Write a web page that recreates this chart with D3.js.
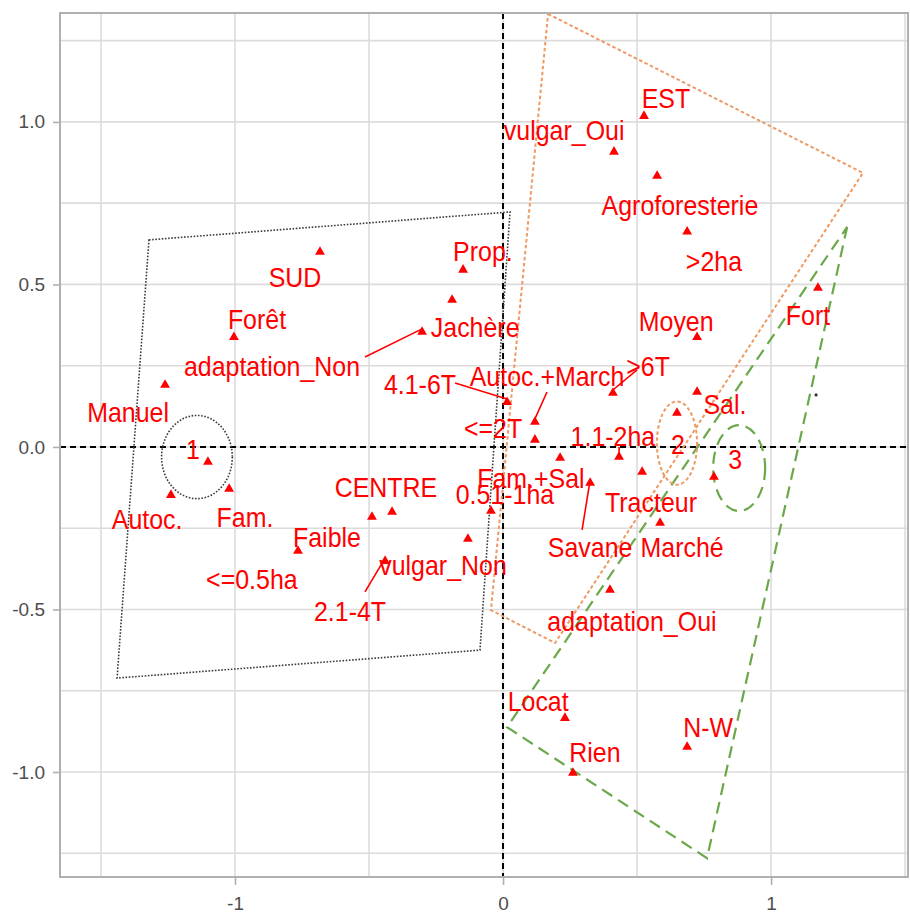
<!DOCTYPE html>
<html>
<head>
<meta charset="utf-8">
<script src="https://cdn.jsdelivr.net/npm/d3@7"></script>
<style>
  html, body { margin: 0; padding: 0; background: #fff; }
  svg { display: block; }
</style>
</head>
<body>
<svg id="chart" width="910" height="916"></svg>
<script>
// Category coordinates on the first two dimensions
const categories = [
  "EST", "vulgar_Oui", "Agroforesterie", ">2ha", "Fort", "Moyen", ">6T", "Sal.",
  "1.1-2ha", "Tracteur", "Marché", "adaptation_Oui", "Savane", "Fam.+Sal",
  "Autoc.+March", "<=2T", "4.1-6T", "0.51-1ha", "vulgar_Non", "2.1-4T", "CENTRE",
  "Faible", "<=0.5ha", "Fam.", "Autoc.", "Manuel", "Forêt", "SUD", "Prop.",
  "Jachère", "adaptation_Non", "Locat", "Rien", "N-W"
];
const dim1 = [
  0.526, 0.414, 0.575, 0.687, 1.175, 0.724, 0.410, 0.724,
  0.433, 0.519, 0.586, 0.399, 0.325, 0.213,
  0.119, 0.119, 0.015, -0.045, -0.131, -0.440, -0.414,
  -0.489, -0.765, -1.022, -1.239, -1.261, -1.004, -0.683, -0.149,
  -0.190, -0.302, 0.231, 0.261, 0.687
];
const dim2 = [
  1.018, 0.908, 0.834, 0.662, 0.489, 0.338, 0.166, 0.169,
  -0.031, -0.077, -0.234, -0.440, -0.111, -0.034,
  0.077, 0.022, 0.138, -0.197, -0.283, -0.351, -0.200,
  -0.215, -0.320, -0.129, -0.148, 0.191, 0.338, 0.600, 0.545,
  0.452, 0.354, -0.834, -1.003, -0.923
];
// Repelled label anchors (dimension units)
const labelDim1 = [
  0.608, 0.228, 0.660, 0.787, 1.138, 0.646, 0.541, 0.828,
  0.410, 0.552, 0.668, 0.481, 0.325, 0.104,
  0.164, -0.037, -0.310, 0.007, -0.224, -0.571, -0.437,
  -0.657, -0.937, -0.963, -1.328, -1.399, -0.918, -0.776, -0.075,
  -0.104, -0.862, 0.131, 0.343, 0.765
];
const labelDim2 = [
  1.071, 0.972, 0.742, 0.569, 0.403, 0.385, 0.246, 0.129,
  0.031, -0.172, -0.311, -0.538, -0.311, -0.098,
  0.215, 0.055, 0.191, -0.148, -0.366, -0.508, -0.126,
  -0.280, -0.409, -0.218, -0.225, 0.105, 0.391, 0.520, 0.600,
  0.366, 0.246, -0.785, -0.942, -0.865
];
// Leader segments: label name, start of the segment (dimension units)
const leaders = [
  ["adaptation_Non", -0.515, 0.277],
  ["4.1-6T", -0.179, 0.197],
  ["Autoc.+March", 0.164, 0.169],
  [">6T", 0.500, 0.237],
  ["Savane", 0.295, -0.255],
  ["2.1-4T", -0.515, -0.446],
  ["1.1-2ha", 0.433, 0.000]
];

// Clusters: centroids, label positions, ellipses and convex hulls
const clusters = ["1", "2", "3"];
const clusterCentroidX = [-1.101, 0.649, 0.787];
const clusterCentroidY = [-0.046, 0.105, -0.092];
const clusterLabelX = [-1.157, 0.653, 0.866];
const clusterLabelY = [-0.009, 0.006, -0.040];
const ellipseCX = [-1.142, 0.649, 0.881];
const ellipseCY = [-0.031, 0.012, -0.065];
const ellipseRX = [0.132, 0.075, 0.097];
const ellipseRY = [0.128, 0.128, 0.132];
const hull1 = [[-1.321, 0.637], [0.026, 0.723], [-0.086, -0.625], [-1.440, -0.711]];
const hull2 = [[0.168, 1.332], [1.343, 0.843], [0.194, -0.603], [-0.045, -0.502]];
const hull3 = [[1.284, 0.677], [0.761, -1.265], [0.015, -0.862]];
const extraDot = [1.168, 0.160];

const xTicks = [-1, 0, 1];
const yTicks = [-1.0, -0.5, 0.0, 0.5, 1.0];
const xMinor = [-1.5, -0.5, 0.5, 1.5];
const yMinor = [-1.25, -0.75, -0.25, 0.25, 0.75, 1.25];

const svg = d3.select("#chart");
const pLeft = 60, pRight = 908, pTop = 13, pBottom = 877;

const x = d3.scaleLinear().domain([-1.653, 1.511]).range([pLeft, pRight]);
const y = d3.scaleLinear().domain([-1.323, 1.335]).range([pBottom, pTop]);

const clusterColors = ["#3a3a3a", "#ee9a62", "#6aa84a"];
const clusterDash = ["1.6,1.6", "3.5,2.5", "12,7"];
const clusterWidth = [1.6, 2, 2.2];
const red = "#ff0000";
const font = "'Liberation Sans', Arial, sans-serif";

const defs = svg.append("defs");
defs.append("clipPath").attr("id", "panel")
  .append("rect").attr("x", pLeft).attr("y", pTop)
  .attr("width", pRight - pLeft).attr("height", pBottom - pTop);

// Panel background and grid
svg.append("rect").attr("x", pLeft).attr("y", pTop)
  .attr("width", pRight - pLeft).attr("height", pBottom - pTop).attr("fill", "#fff");

const grid = svg.append("g").attr("stroke", "#dcdcdc").attr("stroke-width", 1.6);
grid.selectAll("line.vx").data(xTicks.concat(xMinor)).join("line")
  .attr("x1", d => x(d)).attr("x2", d => x(d)).attr("y1", pTop).attr("y2", pBottom);
grid.selectAll("line.hy").data(yTicks.concat(yMinor)).join("line")
  .attr("x1", pLeft).attr("x2", pRight).attr("y1", d => y(d)).attr("y2", d => y(d));

const plot = svg.append("g").attr("clip-path", "url(#panel)");

// Reference axes through the origin
plot.append("line").attr("x1", x(0)).attr("x2", x(0)).attr("y1", pTop).attr("y2", pBottom)
  .attr("stroke", "#000").attr("stroke-width", 2).attr("stroke-dasharray", "6,4");
plot.append("line").attr("x1", pLeft).attr("x2", pRight).attr("y1", y(0)).attr("y2", y(0))
  .attr("stroke", "#000").attr("stroke-width", 2).attr("stroke-dasharray", "6,4");

// Convex hulls of the three clusters
const line = d3.line().x(d => x(d[0])).y(d => y(d[1])).curve(d3.curveLinearClosed);
[hull1, hull2, hull3].forEach((h, i) => {
  plot.append("path").attr("d", line(h)).attr("fill", "none")
    .attr("stroke", clusterColors[i]).attr("stroke-width", clusterWidth[i])
    .attr("stroke-dasharray", clusterDash[i]);
});

// Concentration ellipses
clusters.forEach((c, i) => {
  plot.append("ellipse")
    .attr("cx", x(ellipseCX[i])).attr("cy", y(ellipseCY[i]))
    .attr("rx", x(ellipseRX[i]) - x(0)).attr("ry", y(0) - y(ellipseRY[i]))
    .attr("fill", "none").attr("stroke", clusterColors[i])
    .attr("stroke-width", clusterWidth[i]).attr("stroke-dasharray", clusterDash[i]);
});

// Leader segments
const idx = name => categories.indexOf(name);
plot.selectAll("line.leader").data(leaders).join("line")
  .attr("x1", d => x(d[1])).attr("y1", d => y(d[2]))
  .attr("x2", d => x(dim1[idx(d[0])])).attr("y2", d => y(dim2[idx(d[0])]) - 3)
  .attr("stroke", red).attr("stroke-width", 1.6);

// Category points
const tri = d3.symbol().type(d3.symbolTriangle).size(42);
plot.selectAll("path.pt").data(categories).join("path")
  .attr("d", tri)
  .attr("transform", (d, i) => `translate(${x(dim1[i])},${y(dim2[i])})`)
  .attr("fill", red);

// Cluster centroids
plot.selectAll("path.ct").data(clusters).join("path")
  .attr("d", tri)
  .attr("transform", (d, i) => `translate(${x(clusterCentroidX[i])},${y(clusterCentroidY[i])})`)
  .attr("fill", red);

plot.append("circle").attr("cx", x(extraDot[0])).attr("cy", y(extraDot[1]))
  .attr("r", 1.6).attr("fill", "#333");

// Labels
const labelStyle = sel => sel
  .attr("text-anchor", "middle").attr("dominant-baseline", "central")
  .attr("font-family", font).attr("font-size", 24).attr("fill", red);

plot.selectAll("text.lab").data(categories).join("text")
  .call(labelStyle)
  .attr("transform", (d, i) => `translate(${x(labelDim1[i])},${y(labelDim2[i])}) scale(1.04,1.12)`)
  .text(d => d);

plot.selectAll("text.cl").data(clusters).join("text")
  .call(labelStyle)
  .attr("transform", (d, i) => `translate(${x(clusterLabelX[i])},${y(clusterLabelY[i])}) scale(1.04,1.12)`)
  .text(d => d);

// Panel border
svg.append("rect").attr("x", pLeft).attr("y", pTop)
  .attr("width", pRight - pLeft).attr("height", pBottom - pTop)
  .attr("fill", "none").attr("stroke", "#b0b0b0").attr("stroke-width", 2);

// Axes
const xAxis = svg.append("g").attr("transform", `translate(0,${pBottom})`)
  .call(d3.axisBottom(x).tickValues(xTicks).tickFormat(d3.format("d")).tickSize(8).tickPadding(12));
const yAxis = svg.append("g").attr("transform", `translate(${pLeft},0)`)
  .call(d3.axisLeft(y).tickValues(yTicks).tickFormat(d3.format(".1f")).tickSize(7).tickPadding(8));
[xAxis, yAxis].forEach(a => {
  a.select(".domain").remove();
  a.selectAll(".tick line").attr("stroke", "#b0b0b0").attr("stroke-width", 1.6);
  a.selectAll(".tick text").attr("fill", "#4d4d4d").attr("font-family", font).attr("font-size", 19);
});
xAxis.selectAll(".tick text").text(d => d3.format("d")(d).replace("−", "-"));
yAxis.selectAll(".tick text").text(d => d3.format(".1f")(d).replace("−", "-"));
</script>
</body>
</html>
